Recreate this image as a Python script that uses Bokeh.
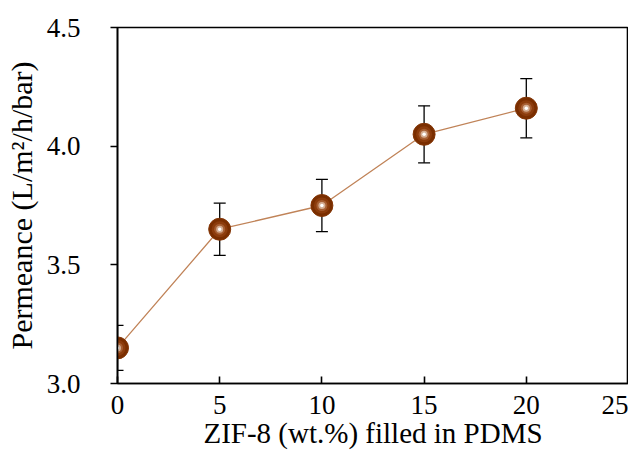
from bokeh.plotting import figure
from bokeh.models import ColumnDataSource, Whisker, Range1d, FixedTicker, TeeHead
from bokeh.embed import file_html
from bokeh.resources import INLINE

# data
zif_loading = [0, 5, 10, 15, 20]
permeance = [3.15, 3.65, 3.75, 4.05, 4.16]
permeance_err = [0.095, 0.11, 0.11, 0.12, 0.125]

x_ticks = [0, 5, 10, 15, 20, 25]
y_ticks = [3.0, 3.5, 4.0, 4.5]
y_tick_labels = ["3.0", "3.5", "4.0", "4.5"]

src = ColumnDataSource(dict(
    x=zif_loading,
    y=permeance,
    upper=[v + e for v, e in zip(permeance, permeance_err)],
    lower=[v - e for v, e in zip(permeance, permeance_err)],
))

FONT = "Liberation Serif"

p = figure(width=628, height=457, output_backend="svg", toolbar_location=None,
           x_range=Range1d(0, 25), y_range=Range1d(3.0, 4.5),
           min_border_left=117, min_border_right=0, min_border_top=27, min_border_bottom=74)

p.xgrid.visible = False
p.ygrid.visible = False
p.outline_line_color = "black"
p.outline_line_width = 1.6
p.background_fill_color = "white"
p.border_fill_color = "white"

# axes
p.xaxis.ticker = FixedTicker(ticks=x_ticks)
p.yaxis.ticker = FixedTicker(ticks=y_ticks)
p.xaxis.major_label_overrides = {t: str(t) for t in x_ticks}
p.yaxis.major_label_overrides = dict(zip(y_ticks, y_tick_labels))
for ax in (p.xaxis[0], p.yaxis[0]):
    ax.axis_line_color = "black"
    ax.axis_line_width = 1.6
    ax.major_tick_line_color = "black"
    ax.major_tick_line_width = 1.6
    ax.minor_tick_line_color = None
    ax.major_label_text_font = FONT
    ax.major_label_text_font_size = "27px"
    ax.major_label_text_color = "black"
    ax.axis_label_text_font = FONT
    ax.axis_label_text_font_style = "normal"
    ax.axis_label_text_color = "black"

p.xaxis.major_tick_in = 7
p.xaxis.major_tick_out = 0
p.xaxis.major_label_standoff = 12
p.xaxis.axis_label = "ZIF-8 (wt.%) filled in PDMS"
p.xaxis.axis_label_text_font_size = "29px"
p.xaxis.axis_label_standoff = 0

p.yaxis.major_tick_in = 0
p.yaxis.major_tick_out = 7
p.yaxis.major_label_standoff = 30
p.yaxis.axis_label = "Permeance (L/m\u00b2/h/bar)"
p.yaxis.axis_label_text_font_size = "30px"
p.yaxis.axis_label_standoff = 6

# connecting line
p.line("x", "y", source=src, line_color="#C08358", line_width=1.3)

# error bars
wh = Whisker(base="x", upper="upper", lower="lower", source=src,
             line_color="black", line_width=1.3,
             upper_head=TeeHead(size=12, line_color="black", line_width=1.3),
             lower_head=TeeHead(size=12, line_color="black", line_width=1.3))
p.add_layout(wh)

# sphere-like markers
p.scatter("x", "y", source=src, size=22, fill_color="#7A2E00", line_color="#843606", line_width=1)
p.scatter("x", "y", source=src, size=16, fill_color="#8C3C0C", line_color=None)
p.scatter("x", "y", source=src, size=11, fill_color="#A65E32", line_color=None)
p.scatter("x", "y", source=src, size=7, fill_color="#D4AE94", line_color=None)
p.scatter("x", "y", source=src, size=3.5, fill_color="#FFFFFF", line_color=None)

open("out.html", "w").write(file_html(p, INLINE))
